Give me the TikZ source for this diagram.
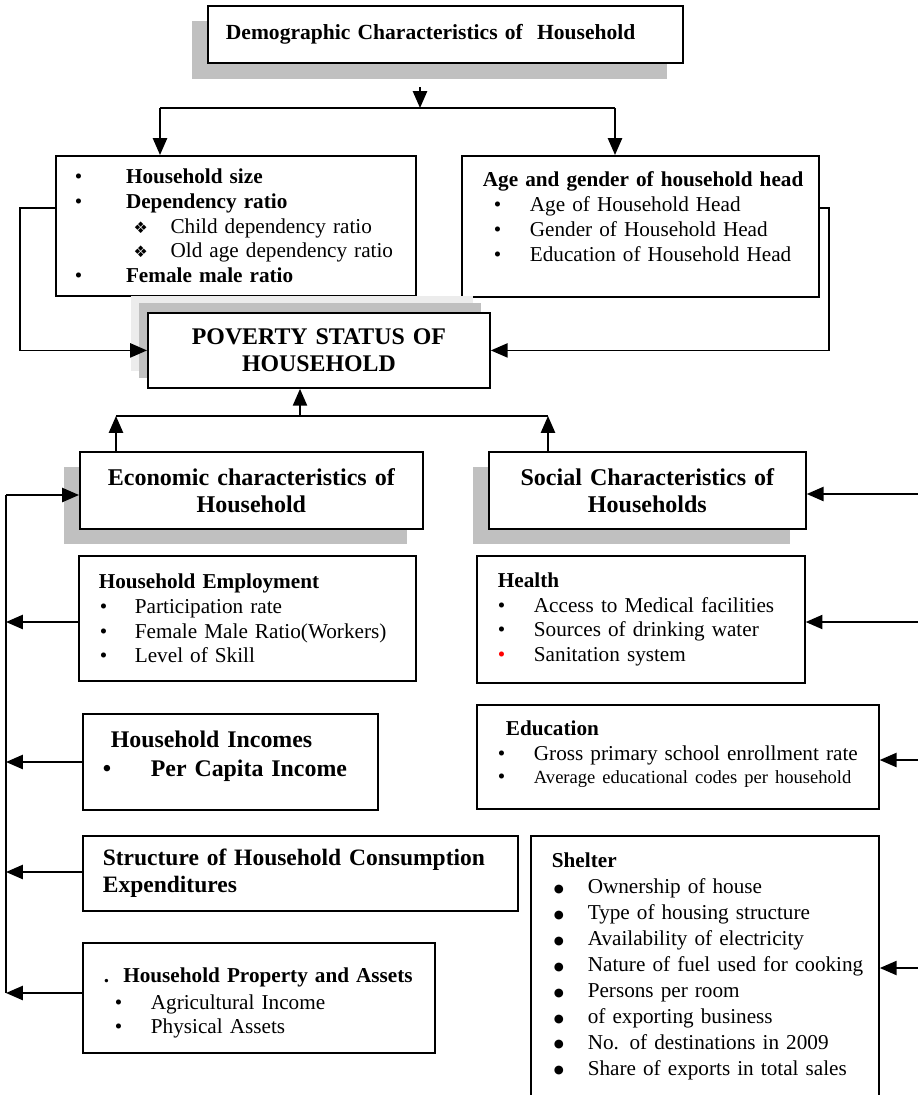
\documentclass[tikz,border=0pt]{standalone}
\usepackage{fontspec}
\setmainfont{Liberation Serif}
\newfontfamily\dingfont{DejaVu Sans}
\usetikzlibrary{arrows.meta,calc,positioning,shadows}
\definecolor{shade}{HTML}{C0C0C0}
\definecolor{shadelight}{HTML}{ECECEC}
\newcommand{\itm}[3]{\hspace*{#1}\makebox[#2][l]{#3}}
\newcommand{\bigbul}{\raisebox{.8pt}{\dingfont\fontsize{6.5}{6.5}\selectfont ●}}
\newcommand{\padb}[1]{\par\vspace{#1}\hrule height 0pt}

\begin{document}
\begin{tikzpicture}[
    x=0.566pt,y=-0.566pt,
    box/.style={draw,line width=1pt,fill=white,anchor=north west,inner xsep=0pt,inner ysep=0pt,
      align=left,font=\fontsize{12}{14}\selectfont},
    shd/.style={drop shadow={shadow xshift=-9pt,shadow yshift=-8.8pt,fill=shade,opacity=1}},
    ln/.style={line width=1pt},
    arr/.style={line width=1pt,-{Triangle[length=9.5pt,width=8pt]}}
  ]
    \useasboundingbox (0,0) rectangle (917,1095);
    % top and second row
    \node[box,shd,text width=268.9pt,minimum height=32.3pt,font=\fontsize{12.2}{15}\selectfont\bfseries]
      (dem) at (207,5) {\hspace*{10.2pt}Demographic Characteristics of~ Household};
    \node[box,text width=203.8pt,minimum height=79.2pt,font=\fontsize{12}{13.9}\selectfont] (hh) at (55,155)
      {\itm{10.8pt}{28.9pt}{\textbullet}\textbf{Household size}\\
       \itm{10.8pt}{28.9pt}{\textbullet}\textbf{Dependency ratio}\\
       \itm{44pt}{20.9pt}{\dingfont\fontsize{9}{9}\selectfont ❖}Child dependency ratio\\
       \itm{44pt}{20.9pt}{\dingfont\fontsize{9}{9}\selectfont ❖}Old age dependency ratio\\
       \itm{10.8pt}{28.9pt}{\textbullet}\textbf{Female male ratio}};
    \node[box,text width=202.1pt,minimum height=79.8pt,font=\fontsize{12}{14.1}\selectfont] (ag) at (461,155)
      {\hspace*{11.9pt}\textbf{Age and gender of household head}\\
       \itm{18.1pt}{20.4pt}{\textbullet}Age of Household Head\\
       \itm{18.1pt}{20.4pt}{\textbullet}Gender of Household Head\\
       \itm{18.1pt}{20.4pt}{\textbullet}Education of Household Head\padb{11.4pt}};
    \node[box,align=center,text width=193.6pt,minimum height=42.5pt,font=\fontsize{13.5}{15.3}\selectfont\bfseries,
      drop shadow={shadow xshift=-9.6pt,shadow yshift=9.6pt,fill=shadelight,opacity=1},
      drop shadow={shadow xshift=-5.1pt,shadow yshift=5.7pt,fill=shade,opacity=1}]
      (pov) at (147,312) {POVERTY STATUS OF\\HOUSEHOLD};
    % economic side
    \node[box,shd,align=center,text width=194.1pt,minimum height=43.6pt,font=\fontsize{13.6}{15.3}\selectfont\bfseries]
      (eco) at (79,451) {Economic characteristics of\\Household};
    \node[box,text width=190.7pt,minimum height=70.8pt,font=\fontsize{12}{14}\selectfont] (emp) at (78,555)
      {\hspace*{11.3pt}\textbf{Household Employment}\\
       \itm{11.9pt}{19.8pt}{\textbullet}Participation rate\\
       \itm{11.9pt}{19.8pt}{\textbullet}Female Male Ratio(Workers)\\
       \itm{11.9pt}{19.8pt}{\textbullet}Level of Skill};
    \node[box,text width=167pt,minimum height=54.3pt,font=\fontsize{13.5}{16.4}\selectfont\bfseries] (inc) at (82,713)
      {\hspace*{15.8pt}Household Incomes\\
       \itm{11.3pt}{27.2pt}{\textbullet}Per Capita Income\padb{6.8pt}};
    \node[box,text width=246.2pt,minimum height=42.5pt,font=\fontsize{13.3}{15.3}\selectfont\bfseries] (con) at (82,835)
      {\hspace*{11.3pt}Structure of Household Consumption\\\hspace*{11.3pt}Expenditures};
    \node[box,text width=199.2pt,minimum height=62.3pt,font=\fontsize{12}{13.6}\selectfont] (prop) at (82,942)
      {\hspace*{11.9pt}\textbf{.\ \ Household Property and Assets}\\[2pt]
       \itm{18.1pt}{20.4pt}{\textbullet}Agricultural Income\\
       \itm{18.1pt}{20.4pt}{\textbullet}Physical Assets\padb{-5.7pt}};
    % social side
    \node[box,shd,align=center,text width=179.4pt,minimum height=43.6pt,font=\fontsize{13.6}{15.3}\selectfont\bfseries]
      (soc) at (488,451) {Social Characteristics of\\Households};
    \node[box,text width=185.6pt,minimum height=71.9pt,font=\fontsize{12}{14}\selectfont] (hea) at (476,555)
      {\hspace*{11.9pt}\textbf{Health}\\
       \itm{11.9pt}{20.4pt}{\textbullet}Access to Medical facilities\\
       \itm{11.9pt}{20.4pt}{\textbullet}Sources of drinking water\\
       \itm{11.9pt}{20.4pt}{\textcolor{red}{\textbullet}}Sanitation system};
    \node[box,text width=227.5pt,minimum height=58.9pt,font=\fontsize{12}{14}\selectfont] (edu) at (476,704)
      {\hspace*{16.4pt}\textbf{Education}\\
       \itm{11.9pt}{20.4pt}{\textbullet}Gross primary school enrollment rate\\[-1pt]
       \itm{11.9pt}{20.4pt}{\textbullet}{\fontsize{10.5}{12}\selectfont Average educational codes per household}\padb{3.4pt}};
    \node[box,text width=197pt,minimum height=150pt,font=\fontsize{12}{14.7}\selectfont] (she) at (530,835)
      {\hspace*{11.9pt}\textbf{Shelter}\\
       \itm{13pt}{19.2pt}{\bigbul}Ownership of house\\
       \itm{13pt}{19.2pt}{\bigbul}Type of housing structure\\
       \itm{13pt}{19.2pt}{\bigbul}Availability of electricity\\
       \itm{13pt}{19.2pt}{\bigbul}Nature of fuel used for cooking\\
       \itm{13pt}{19.2pt}{\bigbul}Persons per room\\
       \itm{13pt}{19.2pt}{\bigbul}of exporting business\\
       \itm{13pt}{19.2pt}{\bigbul}No. of destinations in 2009\\
       \itm{13pt}{19.2pt}{\bigbul}Share of exports in total sales\padb{2.3pt}};
    % connectors
    \coordinate (d0) at (420,87); \coordinate (d1) at (420,108);
    \coordinate (dl) at (160,108); \coordinate (dr) at (615,108);
    \draw[arr] (d0) -- (d1);
    \draw[ln] (dl) -- (dr);
    \draw[arr] (dl) -- (dl |- hh.north);
    \draw[arr] (dr) -- (dr |- ag.north);
    \draw[arr] ($(hh.north west)+(0,53)$) -- ++(-35,0) |- (pov.west);
    \draw[arr] ($(ag.north east)+(0,53)$) -- ++(9,0) |- (pov.east);
    \coordinate (ul) at (116,416); \coordinate (um) at (300,416); \coordinate (ur) at (548,416);
    \draw[ln] (ul) -- (ur);
    \draw[arr] (ul |- eco.north) -- (ul);
    \draw[arr] (ur |- soc.north) -- (ur);
    \draw[arr] (um) -- (um |- pov.south);
    \coordinate (lb0) at (6,495); \coordinate (lb1) at (6,622); \coordinate (lb2) at (6,762);
    \coordinate (lb3) at (6,872); \coordinate (lb4) at (6,993);
    \draw[ln] (lb0) -- (lb4);
    \draw[arr] (lb0) -- (eco.west |- lb0);
    \foreach \n/\c in {emp/lb1,inc/lb2,con/lb3,prop/lb4} {\draw[arr] (\n.west |- \c) -- (\c);}
    \coordinate (rb0) at (925,494); \coordinate (rb1) at (925,622);
    \coordinate (rb2) at (925,760); \coordinate (rb3) at (925,968);
    \draw[ln] (rb0) -- (rb3);
    \foreach \n/\c in {soc/rb0,hea/rb1,edu/rb2,she/rb3} {\draw[arr] (\c) -- (\n.east |- \c);}
\end{tikzpicture}
\end{document}
